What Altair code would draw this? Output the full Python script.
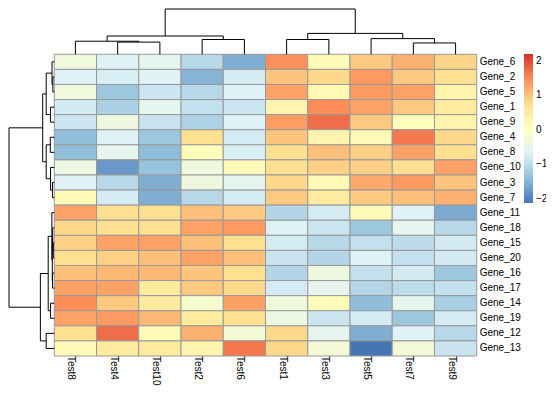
import altair as alt
import pandas as pd
import numpy as np

tests = ["Test8", "Test4", "Test10", "Test2", "Test6", "Test1", "Test3", "Test5", "Test7", "Test9"]
genes = ["Gene_6", "Gene_2", "Gene_5", "Gene_1", "Gene_9", "Gene_4", "Gene_8", "Gene_10", "Gene_3", "Gene_7",
         "Gene_11", "Gene_18", "Gene_15", "Gene_20", "Gene_16", "Gene_17", "Gene_14", "Gene_19", "Gene_12", "Gene_13"]

# values per gene, in column order of `tests`
gene_6 = [-0.32, -0.70, -0.55, -1.06, -1.58, 1.45, 0.11, 0.96, 1.16, 0.85]
gene_2 = [-0.70, -0.76, -0.70, -1.52, -0.80, 0.99, 0.81, 1.36, 0.96, 0.75]
gene_5 = [-0.32, -1.30, -0.87, -1.06, -0.72, 1.29, 0.18, 1.36, 1.29, 0.29]
gene_1 = [-0.81, -1.17, -0.55, -0.95, -0.87, 0.29, 1.47, 1.29, 0.96, 0.50]
gene_9 = [-0.87, -0.37, -0.90, -1.15, -0.70, 1.32, 1.72, 0.96, 0.06, 0.29]
gene_4 = [-1.41, -0.70, -1.30, 0.75, -0.80, 0.99, 0.28, 0.18, 1.63, 0.81]
gene_8 = [-1.41, -0.55, -1.43, 0.11, -0.76, 0.75, 1.03, 0.89, 1.29, 0.75]
gene_10 = [-0.41, -1.78, -1.35, -0.32, 0.11, 0.75, 0.89, 0.89, 0.75, 1.29]
gene_3 = [-0.70, -1.06, -1.58, -0.37, -0.55, 0.81, 0.18, 1.22, 1.36, 0.99]
gene_7 = [0.11, -0.80, -1.58, -1.06, -0.80, 0.96, 0.50, 0.96, 1.03, 1.16]
gene_11 = [1.29, 0.75, 0.75, 1.03, 0.96, -1.10, -0.80, 0.11, -0.70, -1.62]
gene_18 = [0.81, 0.75, 0.75, 1.29, 1.36, -0.70, -0.87, -1.30, -0.55, -1.06]
gene_15 = [0.89, 1.29, 1.29, 1.03, 0.75, -0.80, -1.06, -0.95, -1.02, -0.81]
gene_20 = [0.75, 0.89, 1.03, 1.29, 1.03, -0.90, -1.10, -0.70, -0.95, -0.81]
gene_16 = [1.03, 1.10, 1.10, 0.99, 0.75, -1.10, -0.37, -0.95, -0.81, -1.30]
gene_17 = [1.29, 1.29, 0.50, 0.96, 0.81, -0.80, -0.55, -1.10, -1.02, -0.95]
gene_14 = [1.47, 0.96, 0.50, -0.16, 1.29, -0.32, 0.11, -1.43, -0.55, -1.20]
gene_19 = [1.29, 1.36, 1.10, 0.50, 0.75, -0.41, -0.87, -0.80, -1.30, -0.80]
gene_12 = [0.75, 1.72, 0.11, 1.15, -0.25, 0.81, -0.55, -1.58, -0.70, -1.06]
gene_13 = [0.11, 0.50, 0.50, 0.29, 1.63, 0.81, -0.25, -2.13, -0.25, -0.90]

rows = [gene_6, gene_2, gene_5, gene_1, gene_9, gene_4, gene_8, gene_10, gene_3, gene_7,
        gene_11, gene_18, gene_15, gene_20, gene_16, gene_17, gene_14, gene_19, gene_12, gene_13]

# hierarchical clustering merges: (node, left, right, merge height)
col_tree = [
    ("c1", "Test4", "Test10", 14), ("c2", "Test8", "c1", 15), ("c3", "Test2", "Test6", 17),
    ("c4", "c2", "c3", 21), ("c5", "Test1", "Test3", 17), ("c6", "Test7", "Test9", 13),
    ("c7", "Test5", "c6", 18), ("c8", "c5", "c7", 24), ("c9", "c4", "c8", 52),
]
row_tree = [
    ("r1", "Gene_2", "Gene_5", 1.6), ("r2", "Gene_6", "r1", 2.6), ("r3", "Gene_1", "Gene_9", 4.3),
    ("r4", "r2", "r3", 9.3), ("r5", "Gene_4", "Gene_8", 4.6), ("r6", "Gene_3", "Gene_7", 2.0),
    ("r7", "Gene_10", "r6", 4.3), ("r8", "r5", "r7", 9.3), ("r9", "r4", "r8", 13.3),
    ("r10", "Gene_15", "Gene_20", 1.2), ("r11", "Gene_18", "r10", 1.8), ("r12", "Gene_16", "Gene_17", 2.0),
    ("r13", "r11", "r12", 2.3), ("r14", "Gene_11", "r13", 2.8), ("r15", "Gene_14", "Gene_19", 4.3),
    ("r16", "r14", "r15", 7.0), ("r17", "Gene_12", "Gene_13", 9.3), ("r18", "r16", "r17", 16.0),
    ("r19", "r9", "r18", 52),
]

legend_ticks = [-2, -1, 0, 1, 2]
color_lo, color_hi = -2.13, 2.19
palette = ["#4575B4", "#91BFDB", "#E0F3F8", "#FFFFBF", "#FEE090", "#FC8D59", "#D73027"]

# layout (pixels of one cell; chart plot area; tree pixels per height unit)
COL_PX, ROW_PX = 42.24, 15.085
W, H = 538, 382
LEFT_PX, TOP_PX = 46.3, 46.3
TREE_PX = 45.3 / 52

nc, nr = len(tests), len(genes)

cells = []
for i, g in enumerate(genes):
    for j, t in enumerate(tests):
        cells.append(dict(gene=g, test=t, value=rows[i][j], c0=j, c1=j + 1, r0=i, r1=i + 1))
cells = pd.DataFrame(cells)


def segments(tree, leaves):
    pos = {l: i + 0.5 for i, l in enumerate(leaves)}
    h = {l: 0.0 for l in leaves}
    segs = []
    for name, a, b, ht in tree:
        pos[name] = (pos[a] + pos[b]) / 2
        h[name] = ht
        segs.append(dict(p1=pos[a], p2=pos[a], h1=h[a], h2=ht))
        segs.append(dict(p1=pos[b], p2=pos[b], h1=h[b], h2=ht))
        segs.append(dict(p1=pos[a], p2=pos[b], h1=ht, h2=ht))
    return pd.DataFrame(segs)


cseg = segments(col_tree, tests)
cseg["x"], cseg["x2"] = cseg.p1, cseg.p2
cseg["y"], cseg["y2"] = -cseg.h1 * TREE_PX / ROW_PX, -cseg.h2 * TREE_PX / ROW_PX
rseg = segments(row_tree, genes)
rseg["y"], rseg["y2"] = rseg.p1, rseg.p2
rseg["x"], rseg["x2"] = -rseg.h1 * TREE_PX / COL_PX, -rseg.h2 * TREE_PX / COL_PX
segs = pd.concat([cseg, rseg])[["x", "x2", "y", "y2"]]

xs = alt.Scale(domain=[-LEFT_PX / COL_PX, (W - LEFT_PX) / COL_PX], nice=False, zero=False)
ys = alt.Scale(domain=[-TOP_PX / ROW_PX, (H - TOP_PX) / ROW_PX], nice=False, zero=False, reverse=True)

FONT = "Liberation Sans"

heat = alt.Chart(cells).mark_rect(stroke="#999999", strokeWidth=1).encode(
    x=alt.X("c0:Q", scale=xs, axis=None),
    x2="c1:Q",
    y=alt.Y("r0:Q", scale=ys, axis=None),
    y2="r1:Q",
    color=alt.Color(
        "value:Q",
        scale=alt.Scale(domain=list(np.linspace(color_lo, color_hi, len(palette))), range=palette,
                        interpolate="rgb"),
        legend=alt.Legend(title=None, orient="none", legendX=516, legendY=46, direction="vertical",
                          gradientLength=149, gradientThickness=9, values=legend_ticks,
                          labelFontSize=10, labelFont=FONT, labelColor="#000000", labelOffset=3,
                          gradientStrokeWidth=0, labelOverlap=False),
    ),
)

tree = alt.Chart(segs).mark_rule(color="black", strokeWidth=1).encode(
    x=alt.X("x:Q", scale=xs, axis=None), x2="x2:Q",
    y=alt.Y("y:Q", scale=ys, axis=None), y2="y2:Q",
)

glab = pd.DataFrame(dict(label=genes, x=[nc] * nr, y=[i + 0.5 for i in range(nr)]))
gene_text = alt.Chart(glab).mark_text(align="left", baseline="middle", dx=3, fontSize=10, font=FONT,
                                      color="black").encode(
    x=alt.X("x:Q", scale=xs, axis=None), y=alt.Y("y:Q", scale=ys, axis=None), text="label:N")

tlab = pd.DataFrame(dict(label=tests, x=[j + 0.5 for j in range(nc)], y=[nr] * nc))
test_text = alt.Chart(tlab).mark_text(align="left", baseline="middle", angle=90, dy=4, fontSize=10,
                                      font=FONT, color="black").encode(
    x=alt.X("x:Q", scale=xs, axis=None), y=alt.Y("y:Q", scale=ys, axis=None), text="label:N")

chart = alt.layer(heat, tree, gene_text, test_text).properties(
    width=W, height=H, padding=0, autosize=alt.AutoSizeParams(type="none")
).configure_view(strokeWidth=0)

chart.save("out.html", embed_options={"renderer": "svg", "actions": False})
